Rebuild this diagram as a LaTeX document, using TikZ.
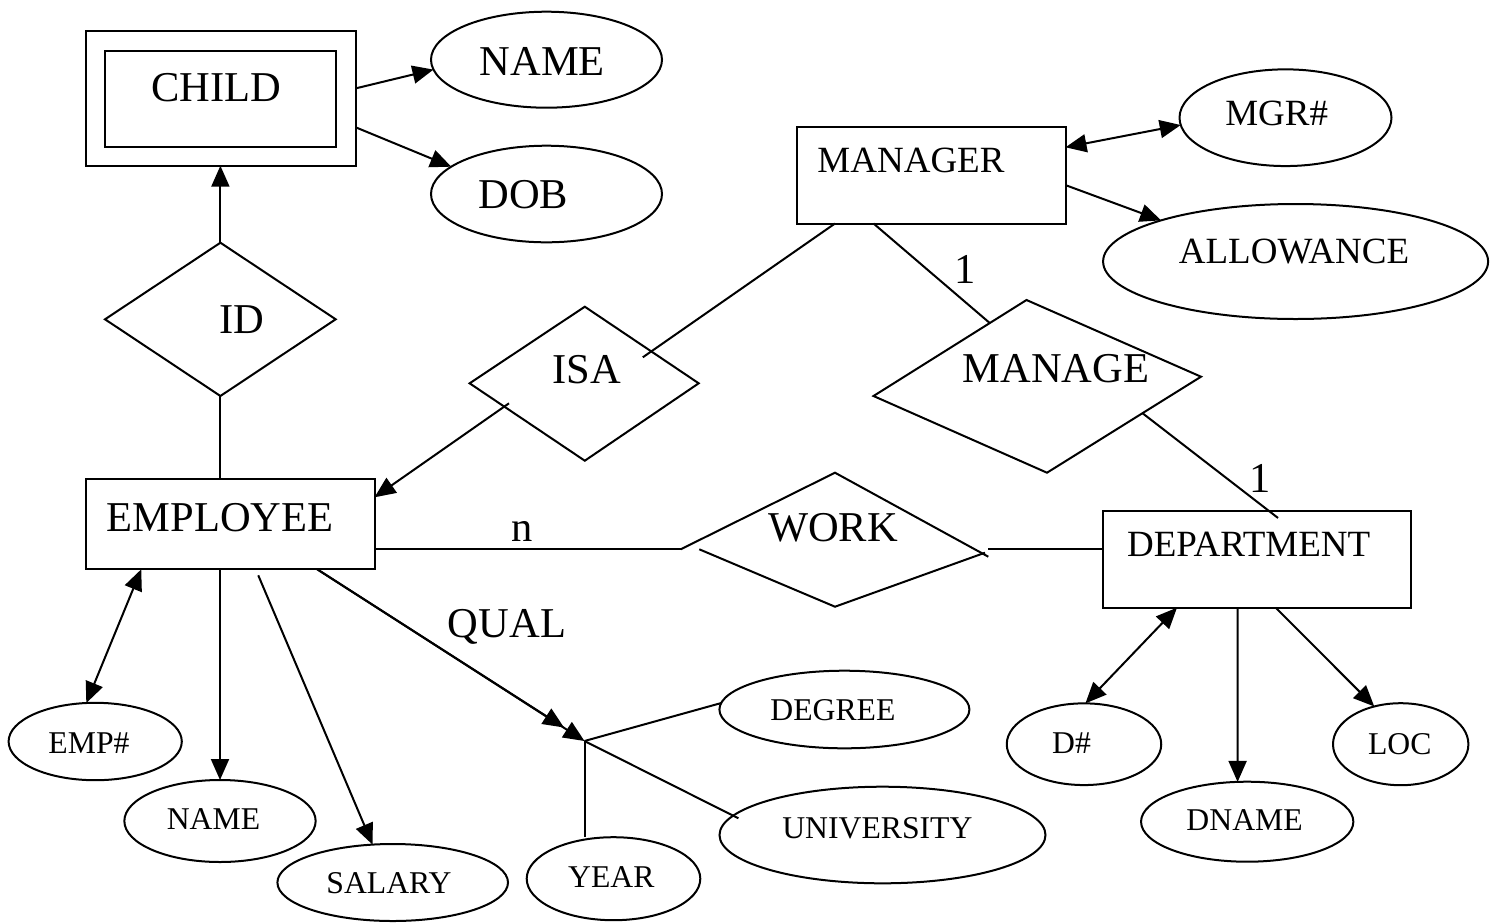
\documentclass[tikz,border=0pt]{standalone}
\usepackage{fontspec}
\setmainfont{Liberation Serif}
\usetikzlibrary{arrows.meta,calc,shapes.geometric}
\newcommand{\FBig}{\fontsize{42.5pt}{48pt}\selectfont}
\newcommand{\FMed}{\fontsize{37pt}{44pt}\selectfont}
\newcommand{\FSm}{\fontsize{31.7pt}{38pt}\selectfont}
\begin{document}
\begin{tikzpicture}[x=1pt,y=-1pt,line width=2pt,
  ent/.style={draw,rectangle,inner sep=0pt,outer sep=0pt},
  attr/.style={draw,ellipse,inner sep=0pt,outer sep=0pt},
  tb/.style={font=\FBig,anchor=base,inner sep=0pt},
  tm/.style={font=\FMed,anchor=base,inner sep=0pt},
  ts/.style={font=\FSm,anchor=base,inner sep=0pt},
  arr/.style={-{Triangle[length=21pt,width=18pt]}},
  darr/.style={{Triangle[length=21pt,width=18pt]}-{Triangle[length=21pt,width=18pt]}}]
\fill[white] (0,0) rectangle (1497,922);
\useasboundingbox (0,0) rectangle (1497,922);

% entities
\node[ent,minimum width=270.1pt,minimum height=134.7pt] (child) at (220.75,98.35) {};
\node[ent,minimum width=231pt,minimum height=96pt] (childin) at (220.5,98.7) {};
\node[tb] (childT) at (216.5,101.7) {CHILD};
\node[ent,minimum width=288.5pt,minimum height=90pt] (emp) at (230.25,524.3) {};
\node[tb] (empT) at (220,531.7) {EMPLOYEE};
\node[ent,minimum width=269pt,minimum height=96.8pt] (mgr) at (931,175.1) {};
\node[tm] (mgrT) at (911,172.7) {MANAGER};
\node[ent,minimum width=308.4pt,minimum height=96.7pt] (dept) at (1257,559.3) {};
\node[tm] (deptT) at (1248.7,556.7) {DEPARTMENT};

% attributes
\node[attr,minimum width=231pt,minimum height=96pt] (name1) at (546.5,59.7) {};
\node[tb] (name1T) at (542.4,75) {NAME};
\node[attr,minimum width=231pt,minimum height=96.6pt] (dob) at (546.5,194) {};
\node[tb] (dobT) at (523.4,208.3) {DOB};
\node[attr,minimum width=212pt,minimum height=96.7pt] (mgrnum) at (1285.5,117.7) {};
\node[tm] (mgrnumT) at (1276.7,125) {MGR\#};
\node[attr,minimum width=385pt,minimum height=115pt] (allow) at (1295.6,261.5) {};
\node[tm] (allowT) at (1294,263) {ALLOWANCE};
\node[attr,minimum width=173.2pt,minimum height=77.4pt] (empnum) at (95.2,741.5) {};
\node[ts] (empnumT) at (89,753) {EMP\#};
\node[attr,minimum width=191.3pt,minimum height=82pt] (name2) at (220,821) {};
\node[ts] (name2T) at (213.5,829) {NAME};
\node[attr,minimum width=230.6pt,minimum height=77pt] (salary) at (392.7,882.5) {};
\node[ts] (salaryT) at (389,893) {SALARY};
\node[attr,minimum width=173.6pt,minimum height=83pt] (year) at (613.5,878.7) {};
\node[ts] (yearT) at (611.3,887.3) {YEAR};
\node[attr,minimum width=250pt,minimum height=77.6pt] (degree) at (844.4,709.5) {};
\node[ts] (degreeT) at (832.9,720) {DEGREE};
\node[attr,minimum width=326pt,minimum height=96.6pt] (univ) at (882.5,835) {};
\node[ts] (univT) at (877.4,838) {UNIVERSITY};
\node[attr,minimum width=154.5pt,minimum height=81.7pt] (dnum) at (1084,744.2) {};
\node[ts] (dnumT) at (1071.6,753) {D\#};
\node[attr,minimum width=135.4pt,minimum height=82pt] (loc) at (1400.7,744.2) {};
\node[ts] (locT) at (1399.7,754) {LOC};
\node[attr,minimum width=212.3pt,minimum height=80pt] (dname) at (1247.2,821.7) {};
\node[ts] (dnameT) at (1244.6,830) {DNAME};

% relationships (diamonds)
\coordinate (idL) at (105,319.3);
\coordinate (idT) at (220.4,242.7);
\coordinate (idR) at (335.7,319.3);
\coordinate (idB) at (220.4,396);
\draw (idL) -- (idT) -- (idR) -- (idB) -- cycle;
\node[tb] (idTx) at (242,333.3) {ID};

\coordinate (isL) at (469.6,383.3);
\coordinate (isT) at (584.8,306.7);
\coordinate (isR) at (698.7,383.3);
\coordinate (isB) at (584.8,460.7);
\coordinate (isC) at (584.8,383.3);
\draw (isL) -- (isT) -- (isR) -- (isB) -- cycle;
\node[tb] (isaT) at (587,383.3) {ISA};

\coordinate (mgT) at (1026.5,300);
\coordinate (mgR) at (1201,376.7);
\coordinate (mgB) at (1047,472.7);
\coordinate (mgL) at (873.5,396);
\draw (mgL) -- (mgT) -- (mgR) -- (mgB) -- cycle;
\node[tb] (manageT) at (1056,382) {MANAGE};

\coordinate (wL) at (680.7,549.3);
\coordinate (wT) at (835,472.7);
\coordinate (wR) at (988.3,556.7);
\coordinate (wL2) at (699.3,549.3);
\coordinate (wB) at (835,606.7);
\coordinate (wR2) at (985,552.7);
\coordinate (wRh) at (988.3,549.3);
\draw (wL) -- (wT) -- (wR);
\draw (wL2) -- (wB) -- (wR2);
\node[tb] (workT) at (833,541.7) {WORK};

% junction of QUAL
\coordinate (J) at (584.5,741);
\coordinate (Jm) at (564,727.5);

% connectors
\draw[arr] ($(child.east)+(0,-10)$) -- (name1.185);
\draw[arr] ($(child.east)+(0,29)$) -- (dob.164);
\draw[arr] (idT) -- (idT |- child.south);
\draw (idB) -- (idB |- emp.north);
\draw[arr] ($(isC)+(-75.8,20)$) -- ($(emp.east)+(0,-27)$);
\draw ($(isC)+(58,-26)$) -- ($(mgr.south)+(-96,0)$);
\draw ($(mgr.south)+(-57.5,0)$) -- ($(mgL)!0.76!(mgT)$);
\draw ($(mgR)!0.38!(mgB)$) -- ($(dept.north)+(21,7)$);
\draw ($(emp.east)+(0,25)$) -- (wL);
\draw (wRh) -- ($(dept.west)+(0,-10)$);
\draw[darr] ($(mgr.east)+(0,-27.8)$) -- (mgrnum.184.5);
\draw[arr] ($(mgr.east)+(0,10)$) -- (allow.163.5);
\draw[darr] ($(emp.south)+(-89,0)$) -- (empnum.103.3);
\draw[arr] (name2.north |- emp.south) -- (name2.north);
\draw[arr] ($(emp.south)+(28,6)$) -- (salary.118.9);
\draw[arr] ($(emp.south)+(87,0)$) -- (J);
\draw[arr] ($(emp.south)+(87,0)$) -- (Jm);
\draw (J) -- (degree.177.2);
\draw (J) -- ($(univ.center)+(-144.1,-16.7)$);
\draw (J) -- (J |- year.north);
\draw[darr] ($(dept.south)+(-80,0)$) -- (dnum.88);
\draw[arr] ($(dept.south)+(-19.4,0)$) -- ($(dname.north)+(-9.6,0.2)$);
\draw[arr] ($(dept.south)+(18.7,0)$) -- (loc.125);

% labels
\node[tb] (nLab) at (522,541.7) {n};
\node[tb] (qualLab) at (507,637) {QUAL};
\node[tb] (oneA) at (965,283) {1};
\node[tb] (oneB) at (1260,492) {1};
\end{tikzpicture}
\end{document}
